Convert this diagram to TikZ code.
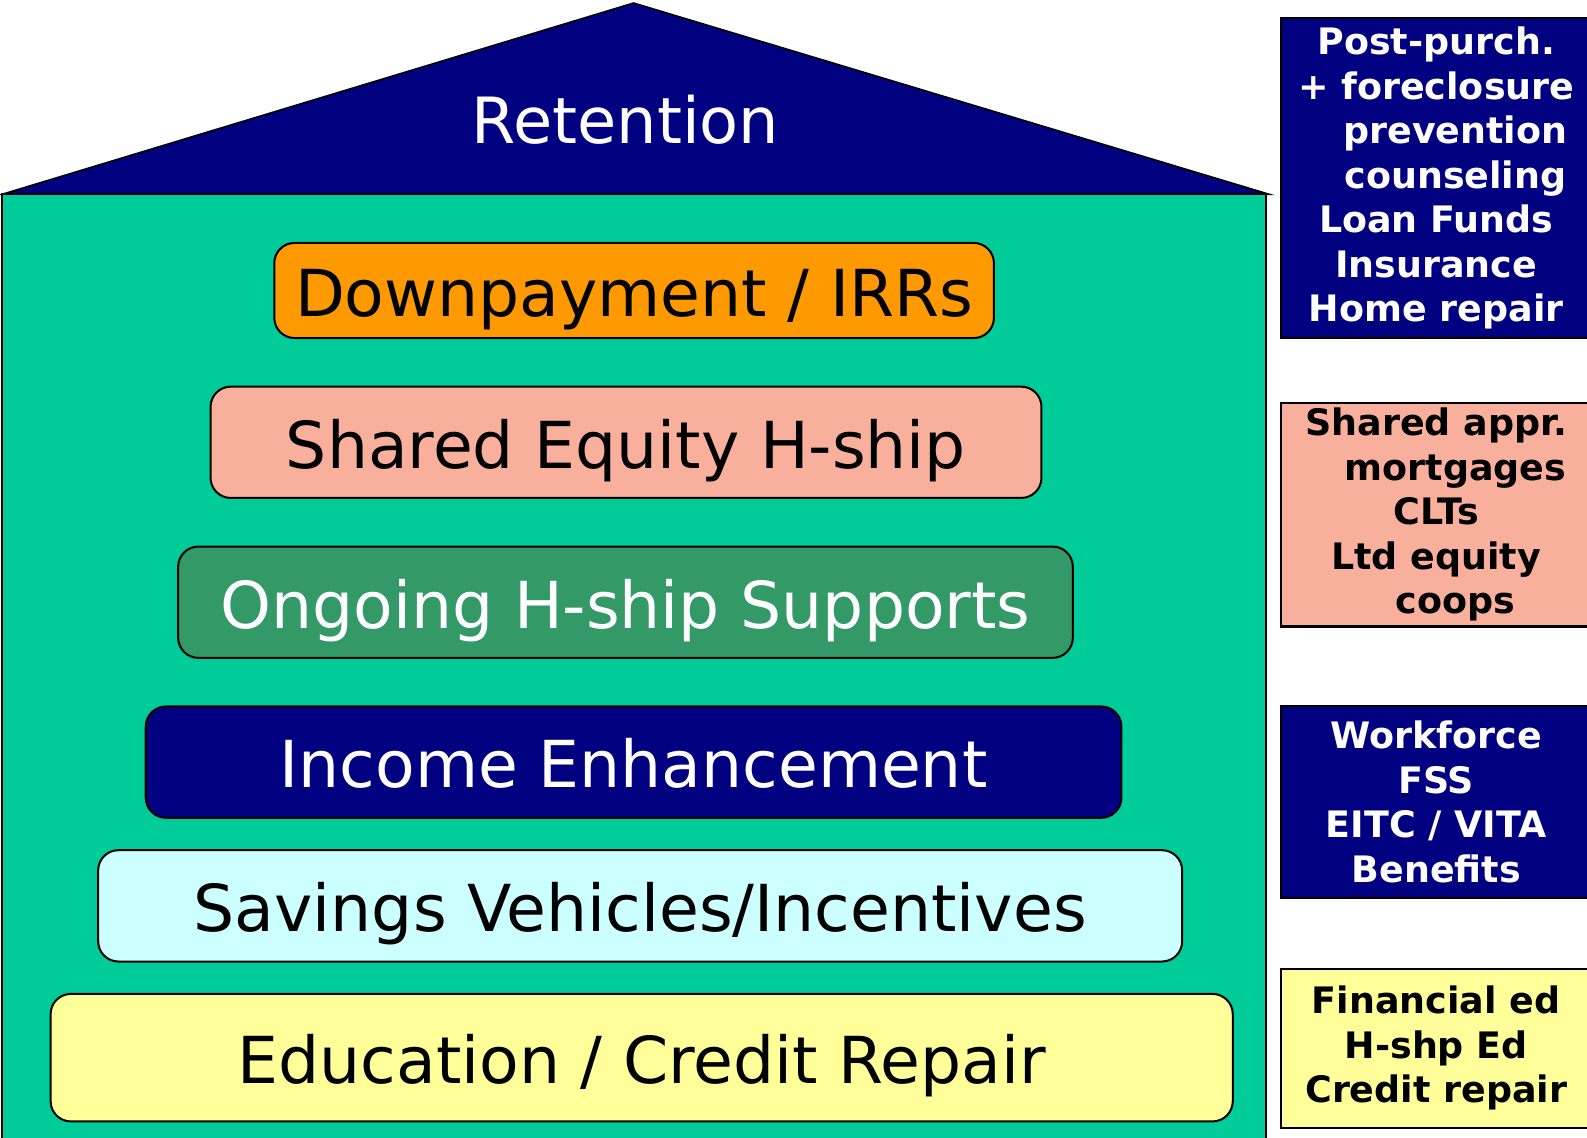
\documentclass[tikz,border=0pt]{standalone}
\usepackage{fontspec}
\setmainfont{DejaVu Sans}
\usetikzlibrary{positioning}

\definecolor{navy}{HTML}{000080}
\definecolor{housegreen}{HTML}{00CC99}
\definecolor{tierorange}{HTML}{FF9900}
\definecolor{tiersalmon}{HTML}{F8B09C}
\definecolor{tiergreen}{HTML}{339966}
\definecolor{tiercyan}{HTML}{CCFFFF}
\definecolor{tieryellow}{HTML}{FFFF99}

\begin{document}
\begin{tikzpicture}[
    x=0.5pt, y=-0.5pt,
    tier/.style={draw, line width=1pt, rounded corners=10pt, minimum height=55pt, inner sep=0pt,
        font=\fontsize{32}{38}\selectfont, text height=25.5pt, text depth=0pt},
    side/.style={draw, line width=1pt, minimum width=153pt, inner sep=0pt, align=center,
        font=\fontsize{18}{22}\selectfont\bfseries}
]
    \useasboundingbox (0,0) rectangle (1568,1124);

    % roof and walls
    \filldraw[fill=navy, line width=0.8pt] (2,192) -- (626,3) -- (1254,192) -- cycle;
    \filldraw[fill=housegreen, line width=1pt] (2,192) rectangle (1251,1140);
    \node[text=white, font=\fontsize{31.5}{36}\selectfont, anchor=base] (roof) at (618,142) {Retention};

    % the tiers
    \node[tier, fill=tierorange, minimum width=355.5pt, minimum height=47pt] (down) at (626.5,287) {Downpayment / IRRs};
    \node[tier, fill=tiersalmon, minimum width=410.5pt] (shared) at (618.5,437) {Shared Equity H-ship};
    \node[tier, fill=tiergreen, minimum width=442pt, text=white] (ongoing) at (618,595) {Ongoing H-ship Supports};
    \node[tier, fill=navy, minimum width=482pt, text=white] (income) at (626,753) {Income Enhancement};
    \node[tier, fill=tiercyan, minimum width=535.5pt] (savings) at (632.5,895) {Savings Vehicles/Incentives};
    \node[tier, fill=tieryellow, minimum width=584pt, minimum height=63pt] (edu) at (634,1045) {Education / Credit Repair};

    % programs on the side
    \node[side, fill=navy, text=white, minimum height=158pt] (retlist) at (1419,176)
        {Post-purch.\\+ foreclosure\\\hspace*{19pt}prevention\\\hspace*{19pt}counseling\\Loan Funds\\Insurance\\Home repair};
    \node[side, fill=tiersalmon, minimum height=110.5pt] (sharedlist) at (1419,508.5)
        {Shared appr.\\\hspace*{19pt}mortgages\\CLTs\\Ltd equity\\\hspace*{19pt}coops};
    \node[side, fill=navy, text=white, minimum height=94.5pt] (incomelist) at (1419,792.5)
        {Workforce\\FSS\\EITC / VITA\\Benefits};
    \node[side, fill=tieryellow, minimum height=78.5pt] (edulist) at (1419,1035.5)
        {Financial ed\\H-shp Ed\\Credit repair};
\end{tikzpicture}
\end{document}
